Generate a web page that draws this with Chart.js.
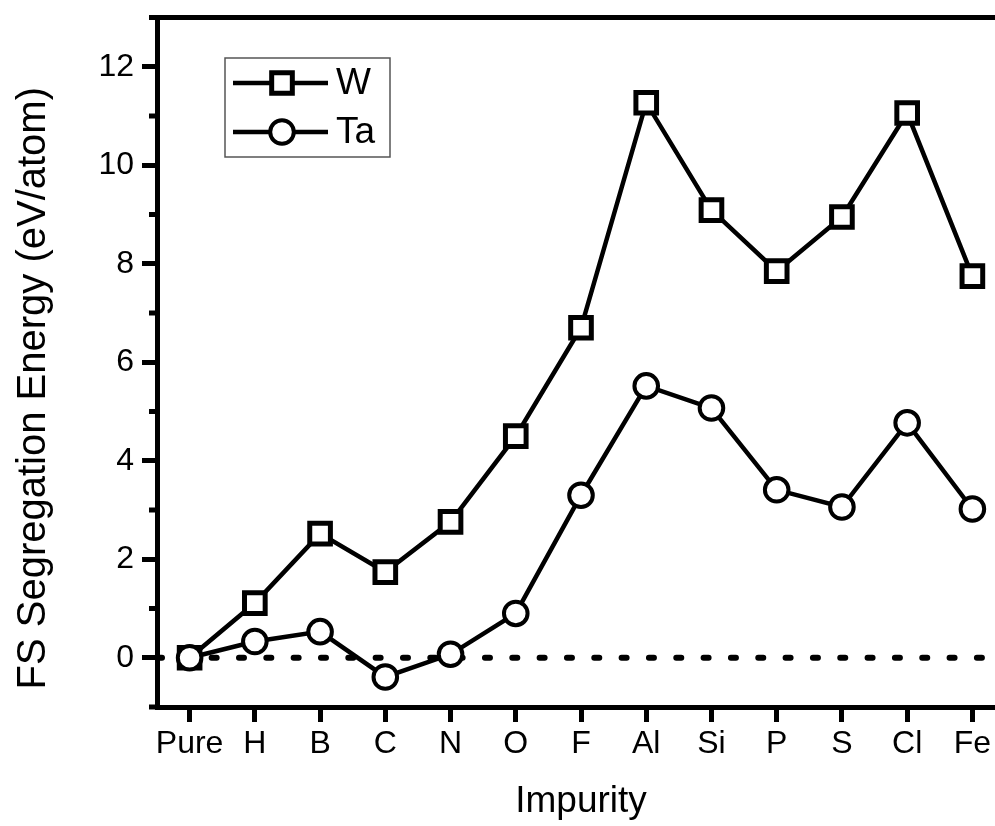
<!DOCTYPE html>
<html><head><meta charset="utf-8">
<script src="https://cdn.jsdelivr.net/npm/chart.js@4.4.1/dist/chart.umd.min.js"></script>
<style>
html,body{margin:0;padding:0;background:#fff;overflow:hidden;}
#c{display:block;}
</style></head><body>
<canvas id="c" width="1005" height="826"></canvas>
<script>
const categories = ['Pure','H','B','C','N','O','F','Al','Si','P','S','Cl','Fe'];
const seriesW  = [0, 1.11, 2.52, 1.74, 2.76, 4.5, 6.7, 11.27, 9.09, 7.85, 8.95, 11.06, 7.75];
const seriesTa = [0, 0.33, 0.53, -0.39, 0.07, 0.9, 3.3, 5.52, 5.07, 3.41, 3.06, 4.77, 3.02];
const seriesNames = ['W', 'Ta'];
const yTickValues = [-1,0,1,2,3,4,5,6,7,8,9,10,11,12,13];
const yLabelValues = [0,2,4,6,8,10,12];
const xTitle = 'Impurity';
const yTitle = 'FS Segregation Energy (eV/atom)';

const FONT = "'Liberation Sans', Arial, sans-serif";
Chart.defaults.font.family = FONT;
Chart.defaults.color = '#000';

const framePlugin = {
  id: 'frame',
  beforeDatasetsDraw(chart) {
    const {ctx, chartArea: ca, scales: {y}} = chart;
    const y0 = y.getPixelForValue(0);
    ctx.save();
    ctx.beginPath();
    ctx.setLineDash([5, 22.33]);
    ctx.lineCap = 'round';
    ctx.lineWidth = 6;
    ctx.strokeStyle = '#000';
    ctx.moveTo(ca.left, y0);
    ctx.lineTo(ca.right, y0);
    ctx.stroke();
    ctx.restore();
  },
  afterDraw(chart) {
    const {ctx, chartArea: ca, scales: {y}} = chart;
    ctx.save();
    ctx.strokeStyle = '#000';
    // top border
    ctx.lineWidth = 5;
    ctx.beginPath();
    ctx.moveTo(ca.left - 2.5, ca.top);
    ctx.lineTo(ca.right + 3, ca.top);
    ctx.stroke();
    // right border
    ctx.beginPath();
    ctx.moveTo(ca.right, ca.top);
    ctx.lineTo(ca.right, ca.bottom);
    ctx.stroke();
    // minor ticks
    yTickValues.filter(v => Math.abs(v % 2) === 1).forEach(v => {
      const py = y.getPixelForValue(v);
      ctx.beginPath();
      ctx.moveTo(ca.left - 8, py);
      ctx.lineTo(ca.left, py);
      ctx.stroke();
    });
    // y axis title
    ctx.save();
    ctx.translate(34, (ca.top + ca.bottom) / 2 + 26);
    ctx.rotate(-Math.PI / 2);
    ctx.fillStyle = '#000';
    ctx.font = '40px ' + FONT;
    ctx.textAlign = 'center';
    ctx.textBaseline = 'middle';
    ctx.fillText(yTitle, 0, 0);
    ctx.restore();
    // legend
    const lx = ca.left + 68, ly = ca.top + 40.5, lw = 165, lh = 99;
    ctx.lineWidth = 1.5;
    ctx.strokeStyle = '#555';
    ctx.strokeRect(lx, ly, lw, lh);
    const rows = [ly + 25, ly + 74];
    chart.data.datasets.forEach((ds, i) => {
      const ry = rows[i];
      ctx.strokeStyle = '#000';
      ctx.lineWidth = 4.5;
      ctx.beginPath();
      ctx.moveTo(lx + 8, ry);
      ctx.lineTo(lx + 103, ry);
      ctx.stroke();
      const mx = lx + 57;
      ctx.fillStyle = '#fff';
      ctx.lineWidth = ds.pointBorderWidth;
      ctx.beginPath();
      if (ds.pointStyle === 'rect') {
        const s = ds.pointRadius * Math.SQRT2;
        ctx.rect(mx - s / 2, ry - s / 2, s, s);
      } else {
        ctx.arc(mx, ry, ds.pointRadius, 0, Math.PI * 2);
      }
      ctx.fill();
      ctx.stroke();
      ctx.fillStyle = '#000';
      ctx.font = '37px ' + FONT;
      ctx.textBaseline = 'middle';
      ctx.textAlign = 'left';
      ctx.fillText(ds.label, lx + 111, ry + 1);
    });
    ctx.restore();
  }
};

new Chart(document.getElementById('c'), {
  type: 'line',
  data: {
    labels: categories,
    datasets: [
      {label: seriesNames[0], data: seriesW, order: 1, borderColor: '#000', borderWidth: 4.5,
       pointStyle: 'rect', pointRadius: 14.6, pointBorderWidth: 5,
       pointBackgroundColor: '#fff', pointBorderColor: '#000', tension: 0, fill: false},
      {label: seriesNames[1], data: seriesTa, order: 0, borderColor: '#000', borderWidth: 4.5,
       pointStyle: 'circle', pointRadius: 11.8, pointBorderWidth: 4,
       pointBackgroundColor: '#fff', pointBorderColor: '#000', tension: 0, fill: false}
    ]
  },
  options: {
    responsive: false,
    animation: false,
    events: [],
    layout: {autoPadding: false, padding: {top: 17.5, left: 0, right: 0, bottom: 0}},
    plugins: {legend: {display: false}, tooltip: {enabled: false}},
    scales: {
      x: {
        type: 'category',
        offset: true,
        grid: {drawOnChartArea: false, tickLength: 15, tickWidth: 5, tickColor: '#000'},
        border: {display: true, width: 5, color: '#000'},
        ticks: {font: {size: 32}, color: '#000', padding: 3, maxRotation: 0, autoSkip: false},
        title: {display: true, text: xTitle, font: {size: 37}, color: '#000', padding: {top: 0, bottom: 2}},
        afterFit(s) { s.height = 119; s.paddingLeft = 0; s.paddingRight = 0; }
      },
      y: {
        type: 'linear',
        min: -1, max: 13,
        afterBuildTicks(s) { s.ticks = yTickValues.map(v => ({value: v})); },
        grid: {
          drawOnChartArea: false, tickLength: 15, tickWidth: 5,
          tickColor: (c) => (c.tick && yLabelValues.includes(c.tick.value)) ? '#000' : 'rgba(0,0,0,0)'
        },
        border: {display: true, width: 5, color: '#000'},
        ticks: {
          font: {size: 32}, color: '#000', padding: 8,
          callback: (v) => yLabelValues.includes(v) ? String(v) : ''
        },
        title: {display: false},
        afterFit(s) { s.width = 157; s.paddingTop = 0; s.paddingBottom = 0; }
      }
    }
  },
  plugins: [framePlugin]
});
</script>
</body></html>
